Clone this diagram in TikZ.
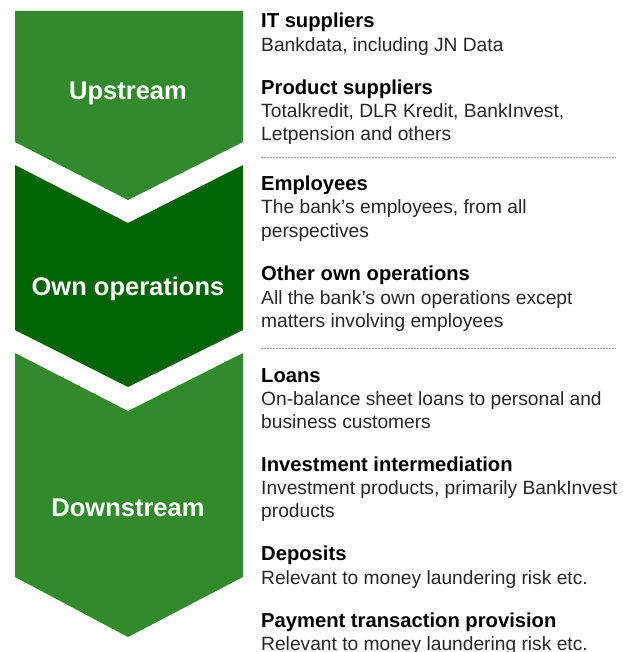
\documentclass[tikz,border=0pt]{standalone}
\usepackage{fontspec}
\setmainfont{Liberation Sans}
\usetikzlibrary{calc}
\definecolor{lightgreen}{RGB}{50,138,45}
\definecolor{darkgreen}{RGB}{0,100,0}
\tikzstyle{stage}=[text=white,anchor=base,inner sep=0pt,font=\fontsize{25.5}{30}\selectfont\bfseries]
\tikzstyle{heading}=[anchor=base west,inner sep=0pt,font=\fontsize{20.2}{23}\selectfont\bfseries]
\tikzstyle{detail}=[anchor=base west,inner sep=0pt,text=black!85,font=\fontsize{19.2}{23}\selectfont]
\tikzstyle{separator}=[draw=black!40,dash pattern=on 1.5pt off 1.5pt,line width=0.8pt]

\begin{document}
\begin{tikzpicture}[x=1pt,y=-1pt]
    \useasboundingbox (0,0) rectangle (622,652);

    % chevrons
    \fill[lightgreen] (15,11) -- (243,11) -- (243,142) -- (128,200) -- (15,142) -- cycle;
    \fill[darkgreen] (15,165) -- (128,223) -- (243,165) -- (243,330) -- (128,387) -- (15,330) -- cycle;
    \fill[lightgreen] (15,353) -- (128,411) -- (243,353) -- (243,577) -- (128,637) -- (15,577) -- cycle;

    \node[stage] (upstream) at (128,100) {Upstream};
    \node[stage] (ownops) at (128,295) {Own operations};
    \node[stage] (downstream) at (128,516) {Downstream};

    % headings and details
    \foreach \name/\y/\txt in {itsup/28/{IT suppliers}, prodsup/95/{Product suppliers},
        empl/191/{Employees}, otherops/280/{Other own operations},
        loans/382/{Loans}, invest/471/{Investment intermediation},
        deposits/560/{Deposits}, payment/627/{Payment transaction provision}}
        \node[heading] (\name) at (261,\y) {\txt};

    \foreach \name/\y/\txt in {itsupa/52/{Bankdata, including JN Data},
        prodsupa/118/{Totalkredit, DLR Kredit, BankInvest,}, prodsupb/141/{Letpension and others},
        empla/214/{The bank’s employees, from all}, emplb/237/{perspectives},
        otheropsa/304/{All the bank’s own operations except}, otheropsb/327/{matters involving employees},
        loansa/405/{On-balance sheet loans to personal and}, loansb/428/{business customers},
        investa/494/{Investment products, primarily BankInvest}, investb/517/{products},
        depositsa/584/{Relevant to money laundering risk etc.},
        paymenta/650/{Relevant to money laundering risk etc.}}
        \node[detail] (\name) at (261,\y) {\txt};

    \draw[separator] (261,157) -- (616,157);
    \draw[separator] (261,348) -- (616,348);

\end{tikzpicture}
\end{document}
